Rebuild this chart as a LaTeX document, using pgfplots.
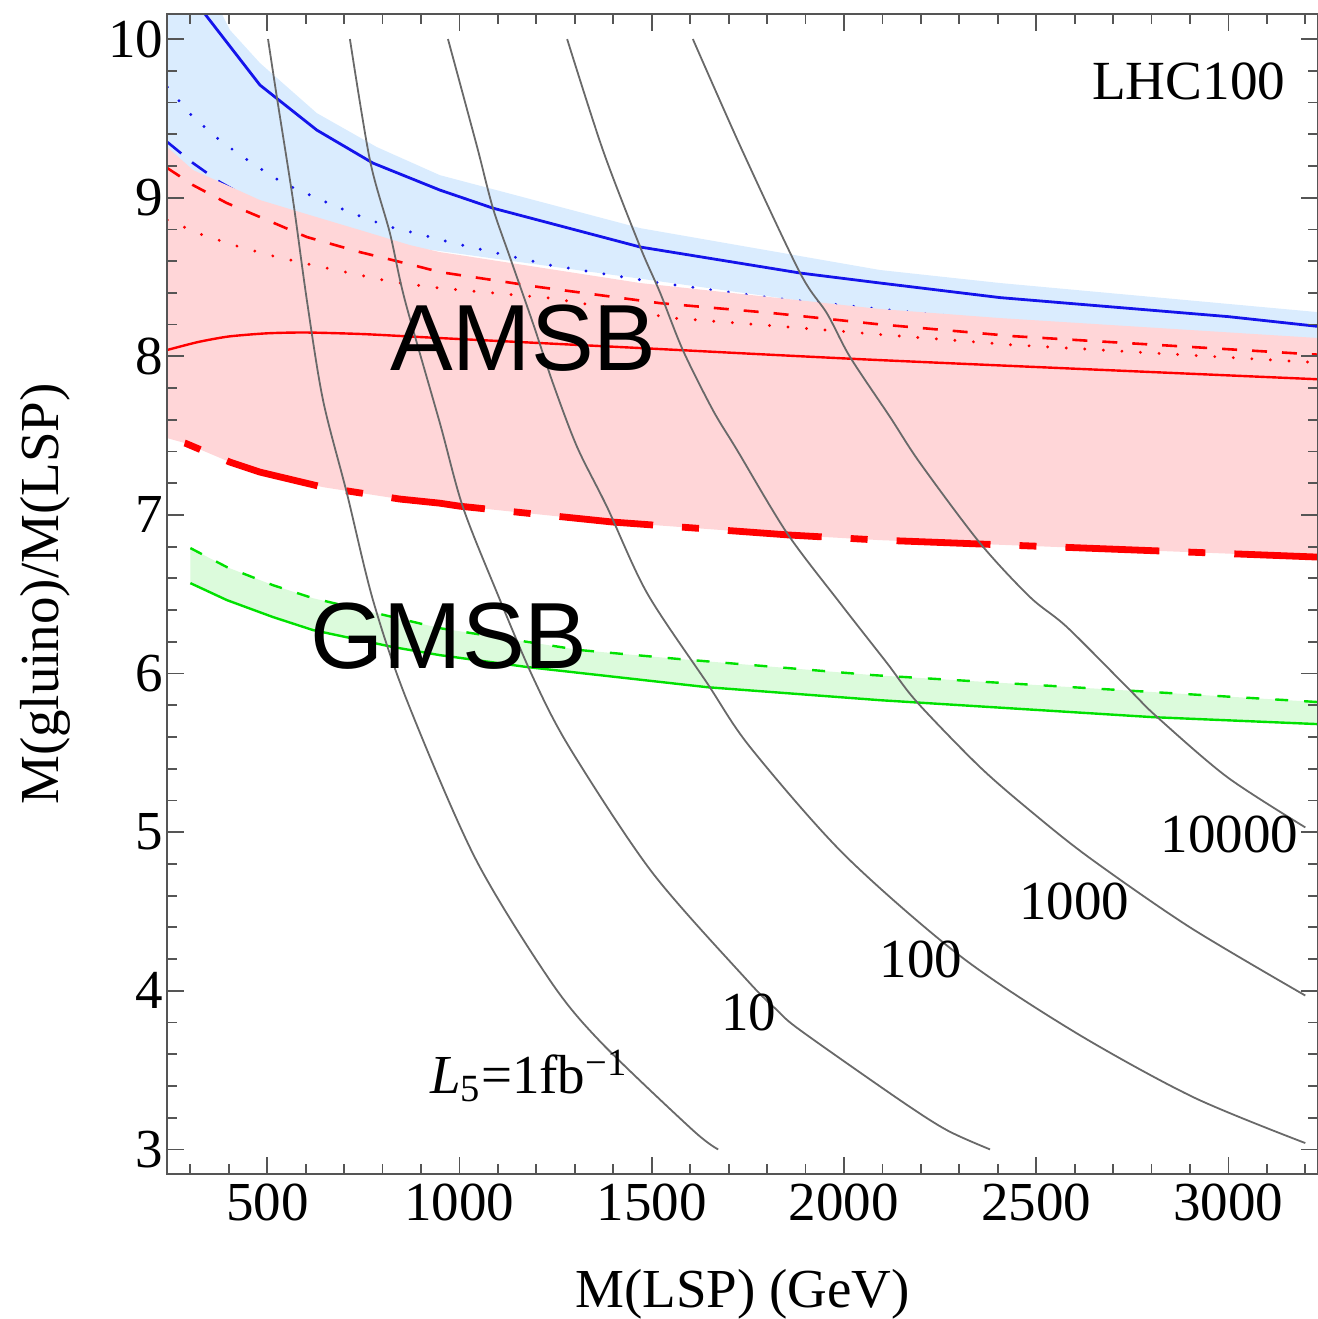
\documentclass[border=0pt]{standalone}
\usepackage{pgfplots}
\pgfplotsset{compat=1.18}
\usepackage{fontspec}
\setmainfont{Liberation Serif}
\newfontfamily\helv{Liberation Sans}
\definecolor{bluefill}{RGB}{218,236,254}
\definecolor{redfill}{RGB}{255,214,216}
\definecolor{greenfill}{RGB}{220,251,220}
\definecolor{mgreen}{RGB}{0,225,0}
\definecolor{mblue}{RGB}{20,20,235}
\definecolor{mred}{RGB}{255,0,0}
\definecolor{cgray}{RGB}{105,105,105}
\definecolor{framegray}{RGB}{85,85,85}
\begin{document}
\begin{tikzpicture}
\useasboundingbox (-83.65pt,-72.5pt) rectangle (575.35pt,587pt);
\begin{axis}[
  at={(0pt,0pt)}, anchor=south west,
  scale only axis, width=575.35pt, height=580pt,
  xmin=240, xmax=3233, ymin=2.845, ymax=10.158,
  xtick={500,1000,1500,2000,2500,3000},
  ytick={3,4,5,6,7,8,9,10},
  minor xtick={300,400,...,3200},
  minor ytick={3.2,3.4,...,9.8},
  tick align=inside,
  major tick length=8.5pt, minor tick length=5pt,
  axis line style={draw=framegray, line width=1pt},
  every tick/.style={framegray, line width=0.9pt},
  axis on top,
  /pgf/number format/assume math mode=true,
  /pgf/number format/1000 sep={},
  tick label style={font=\fontsize{27.5}{33}\selectfont},
  xticklabel style={yshift=-1.5pt},
  yticklabel style={xshift=1.5pt},
  label style={font=\fontsize{27.5}{33}\selectfont},
  xlabel={M(LSP) (GeV)},
  ylabel={M(gluino)/M(LSP)},
  xlabel style={at={(axis description cs:0.5,-0.1040)}, anchor=center},
  ylabel style={at={(axis description cs:-0.1063,0.5)}, anchor=center},
]
% blue band
\addplot[draw=none, fill=bluefill] coordinates {
 (240,10.40) (340,10.36) (382,10.158) (403,10.057) (481,9.849) (629,9.533) (785,9.319)
 (949,9.142) (1470,8.808) (2094,8.544) (2406,8.462) (3235,8.278) (3235,7.90) (240,8.90)
} -- cycle;
\addplot[mblue, line width=1.6pt, line cap=round, dash pattern=on 0pt off 9pt] coordinates {
 (240,9.697) (307,9.508) (382,9.351) (460,9.218) (541,9.092) (629,8.997) (720,8.903)
 (811,8.821) (905,8.764) (983,8.714) (1235,8.575) (1522,8.462) (1816,8.367) (2120,8.291)
 (2700,8.15) (3235,8.01)};
\addplot[mblue, line width=1.3pt, dash pattern=on 9pt off 7pt] coordinates {
 (240,9.351) (307,9.218) (377,9.098) (447,9.004) (600,8.80) (1000,8.52) (2000,8.20) (3235,7.98)};
% red band
\addplot[draw=none, fill=redfill] coordinates {
 (240,9.319) (307,9.174) (395,9.079) (481,8.985) (611,8.890) (741,8.796) (871,8.701)
 (949,8.657) (1001,8.638) (1470,8.462) (2094,8.298) (2406,8.241) (3235,8.115)
 (3235,6.734) (2094,6.841) (1860,6.873) (1399,6.955) (1001,7.055) (949,7.074) (845,7.100)
 (645,7.175) (481,7.270) (403,7.333) (286,7.453) (240,7.484)
} -- cycle;
\addplot[mred, line width=1.6pt, line cap=round, dash pattern=on 0pt off 9.3pt] coordinates {
 (240,8.859) (333,8.764) (429,8.689) (525,8.626) (619,8.575) (715,8.525) (827,8.468)
 (949,8.430) (1235,8.367) (1555,8.241) (1860,8.184) (2112,8.134) (2445,8.071) (3235,7.96)};
\addplot[mred, line width=1.3pt, dash pattern=on 7.5pt off 7.5pt] coordinates {
 (240,9.187) (307,9.079) (395,8.966) (481,8.878) (603,8.752) (741,8.657) (879,8.575)
 (949,8.531) (1209,8.436) (1522,8.335) (1816,8.272) (2086,8.203) (2440,8.127) (3235,8.010)};
\addplot[mred, line width=1.2pt, smooth, tension=0.4] coordinates {
 (240,8.04) (320,8.09) (400,8.125) (500,8.145) (600,8.15) (750,8.14) (949,8.115)
 (1470,8.052) (2094,7.976) (3235,7.855)};
\addplot[mred, line width=3.4pt, dash pattern=on 8.5pt off 14.5pt on 47pt off 14.5pt, dash phase=75.5pt] coordinates {
 (240,7.484) (286,7.453) (403,7.333) (481,7.270) (645,7.175) (845,7.100) (949,7.074)
 (1001,7.055) (1399,6.955) (1860,6.873) (2094,6.841) (3235,6.734)};
\addplot[mblue, line width=1.4pt] coordinates {
 (320,10.214) (481,9.710) (629,9.426) (775,9.218) (949,9.048) (1087,8.934) (1470,8.689)
 (1886,8.525) (2094,8.462) (2406,8.370) (3000,8.250) (3235,8.188)};
% green band
\addplot[draw=none, fill=greenfill] coordinates {
 (300,6.791) (395,6.671) (515,6.557) (619,6.475) (949,6.286) (1313,6.148) (1574,6.091)
 (2076,5.990) (3235,5.820)
 (3235,5.681) (2804,5.725) (2094,5.832) (1644,5.914) (1176,6.041) (949,6.116) (827,6.167)
 (619,6.274) (515,6.356) (395,6.463) (300,6.570)
} -- cycle;
\addplot[mgreen, line width=1.2pt, dash pattern=on 6.5pt off 8pt] coordinates {
 (300,6.791) (395,6.671) (515,6.557) (619,6.475) (949,6.286) (1313,6.148) (1574,6.091)
 (2076,5.990) (3235,5.820)};
\addplot[mgreen, line width=1.2pt] coordinates {
 (300,6.570) (395,6.463) (515,6.356) (619,6.274) (827,6.167) (949,6.116) (1176,6.041)
 (1644,5.914) (2094,5.832) (2804,5.725) (3235,5.681)};
% iso-luminosity contours
\pgfplotsset{contour/.style={cgray, line width=0.9pt, smooth, tension=0.5}}
\addplot[contour] coordinates {
 (502,10.0) (525,9.634) (567,8.985) (603,8.354) (645,7.724) (707,7.138) (775,6.463)
 (863,5.832) (1040,4.84) (1235,4.067) (1366,3.68) (1607,3.121) (1673,3.0)};
\addplot[contour] coordinates {
 (715,10.0) (767,9.237) (819,8.777) (858,8.354) (949,7.579) (1009,7.049) (1098,6.507)
 (1191,5.977) (1287,5.530) (1500,4.75) (1748,4.067) (1826,3.878) (1886,3.752) (2146,3.310)
 (2268,3.121) (2380,3.0)};
\addplot[contour] coordinates {
 (970,10.0) (1001,9.723) (1048,9.300) (1087,8.934) (1131,8.626) (1191,8.209) (1243,7.831)
 (1306,7.428) (1384,7.049) (1488,6.507) (1644,5.940) (1756,5.536) (2000,4.86) (2302,4.22)
 (2600,3.74) (2908,3.33) (3200,3.04)};
\addplot[contour] coordinates {
 (1280,10.0) (1373,9.300) (1470,8.689) (1522,8.40) (1581,8.039) (1659,7.661) (1722,7.409)
 (1852,6.885) (1990,6.444) (2112,6.066) (2190,5.820) (2354,5.410) (2492,5.120) (2640,4.836)
 (2900,4.40) (3200,3.97)};
\addplot[contour] coordinates {
 (1607,10.0) (1735,9.300) (1886,8.525) (1956,8.27) (2016,7.995) (2120,7.617) (2198,7.327)
 (2354,6.822) (2484,6.482) (2580,6.293) (2744,5.895) (2815,5.725) (2997,5.347) (3200,5.03)};
% labels
\node[font=\helv\fontsize{47}{56}\selectfont, inner sep=0pt] at (axis cs:1166,8.112) {AMSB};
\node[font=\helv\fontsize{47}{56}\selectfont, inner sep=0pt] at (axis cs:973,6.233) {GMSB};
\node[font=\fontsize{27.6}{33}\selectfont, inner sep=0pt] at (axis cs:2897,9.735) {LHC100};
\node[font=\fontsize{27.5}{33}\selectfont, inner sep=0pt] at (axis cs:3003,4.985) {10000};
\node[font=\fontsize{27.5}{33}\selectfont, inner sep=0pt] at (axis cs:2599,4.565) {1000};
\node[font=\fontsize{27.5}{33}\selectfont, inner sep=0pt] at (axis cs:2200,4.20) {100};
\node[font=\fontsize{27.5}{33}\selectfont, inner sep=0pt] at (axis cs:1752,3.862) {10};
\node[font=\fontsize{27.5}{33}\selectfont, inner sep=0pt, anchor=base west] at (axis cs:923,3.355) {\textit{L}\textsubscript{5}=1fb\textsuperscript{−1}};
\end{axis}
\end{tikzpicture}
\end{document}
